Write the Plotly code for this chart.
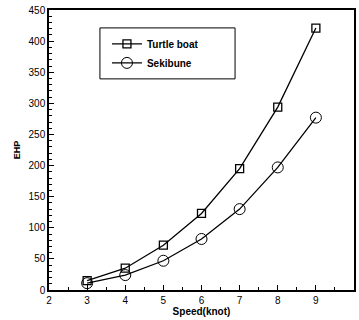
import plotly.graph_objects as go

speed = [3, 4, 5, 6, 7, 8, 9]
turtle = [15, 35, 72, 123, 195, 294, 421]
sekibune = [11, 24, 47, 82, 130, 197, 277]

FONT = "Liberation Sans, Arial"
fig = go.Figure()
fig.add_trace(go.Scatter(x=speed, y=turtle, name="<b>Turtle boat</b>", mode="lines+markers",
                         line=dict(color="black", width=1.3),
                         marker=dict(symbol="square-open", size=8, color="black", line=dict(width=1.3))))
fig.add_trace(go.Scatter(x=speed, y=sekibune, name="<b>Sekibune</b>", mode="lines+markers",
                         line=dict(color="black", width=1.3),
                         marker=dict(symbol="circle-open", size=11, color="black", line=dict(width=1))))

axis_common = dict(showgrid=False, zeroline=False, showline=True, linecolor="black", linewidth=1.5,
                   mirror=True, ticks="inside", ticklen=5, tickcolor="black", automargin=False,
                   tickfont=dict(family=FONT, size=10, color="black"))
fig.update_xaxes(range=[2, 10], dtick=1, **axis_common,
                 minor=dict(ticks="inside", ticklen=3, dtick=0.5, tickcolor="black"),
                 title=dict(text="<b>Speed(knot)</b>", font=dict(family=FONT, size=10, color="black"), standoff=0))
fig.update_yaxes(range=[0, 450], dtick=50, **axis_common,
                 minor=dict(ticks="inside", ticklen=3, dtick=10, tickcolor="black"),
                 title=dict(text="<b>EHP</b>", font=dict(family=FONT, size=9, color="black"), standoff=6))

fig.add_shape(type="rect", xref="paper", yref="paper", x0=0.167, x1=0.61, y0=0.754, y1=0.936,
              line=dict(color="black", width=1), fillcolor="white", layer="below")

fig.update_layout(width=359, height=320, margin=dict(l=49, r=5, t=10, b=30),
                  paper_bgcolor="white", plot_bgcolor="white",
                  font=dict(family=FONT, color="black"),
                  legend=dict(x=0.19, y=0.845, xanchor="left", yanchor="middle",
                              borderwidth=0, bgcolor="rgba(0,0,0,0)",
                              font=dict(family=FONT, size=10, color="black")),
                  showlegend=True)
fig.write_html("out.html", config={"displayModeBar": False},
               post_script="document.body.style.margin='0';document.body.style.overflow='hidden';")
